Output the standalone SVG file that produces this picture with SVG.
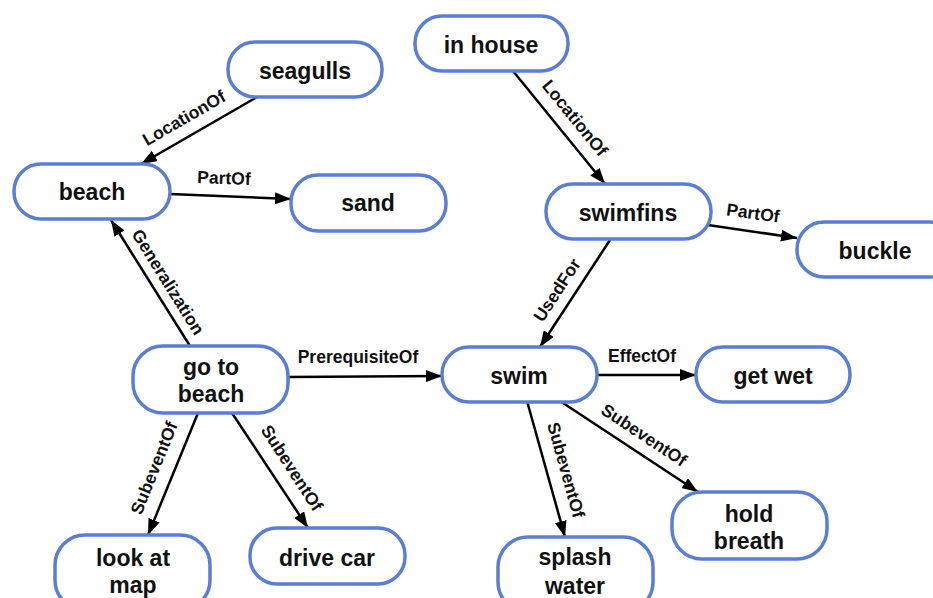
<svg xmlns="http://www.w3.org/2000/svg" width="933" height="598" viewBox="0 0 933 598">
<style>
.node rect{fill:#fff;stroke:#5b7ed5;stroke-width:3.5}
.node text{font-family:"Liberation Sans",Arial,sans-serif;font-weight:bold;font-size:23px;fill:#111;text-anchor:middle}
.edges line{stroke:#000;stroke-width:2.5;marker-end:url(#arr)}
.lbl{font-family:"Liberation Sans",Arial,sans-serif;font-weight:bold;font-size:17.5px;fill:#111;text-anchor:middle;dominant-baseline:central}
</style>
<defs>
<marker id="arr" markerUnits="userSpaceOnUse" markerWidth="16" markerHeight="12" refX="16" refY="6" orient="auto">
<path d="M0,0 L16,6 L0,12 z" fill="#000"/>
</marker>
</defs>
<rect width="933" height="598" fill="#fff"/>
<g class="edges">
<line x1="257" y1="97" x2="141" y2="164"/>
<line x1="170" y1="194" x2="291" y2="199"/>
<line x1="190" y1="346" x2="111" y2="220"/>
<line x1="288" y1="377" x2="442" y2="376"/>
<line x1="513" y1="71" x2="605" y2="184"/>
<line x1="708" y1="225" x2="797" y2="238"/>
<line x1="610" y1="240" x2="540" y2="347"/>
<line x1="597" y1="375" x2="696" y2="375"/>
<line x1="527" y1="401" x2="565" y2="537"/>
<line x1="560" y1="401" x2="698" y2="492"/>
<line x1="198" y1="413" x2="148" y2="535"/>
<line x1="232" y1="413" x2="308" y2="528"/>
<text class="lbl" x="184" y="118" transform="rotate(-30 184 118)">LocationOf</text>
<text class="lbl" x="224" y="178" transform="rotate(2 224 178)">PartOf</text>
<text class="lbl" x="168" y="282" transform="rotate(58 168 282)">Generalization</text>
<text class="lbl" x="358" y="357">PrerequisiteOf</text>
<text class="lbl" x="575" y="118" transform="rotate(51 575 118)">LocationOf</text>
<text class="lbl" x="753" y="213" transform="rotate(8 753 213)">PartOf</text>
<text class="lbl" x="557" y="290" transform="rotate(-57 557 290)">UsedFor</text>
<text class="lbl" x="642" y="356">EffectOf</text>
<text class="lbl" x="566" y="470" transform="rotate(74.5 566 470)">SubeventOf</text>
<text class="lbl" x="644" y="435" transform="rotate(33.5 644 435)">SubeventOf</text>
<text class="lbl" x="154" y="468" transform="rotate(-68 154 468)">SubeventOf</text>
<text class="lbl" x="292" y="468" transform="rotate(57 292 468)">SubeventOf</text>
</g>
<g id="seagulls" class="node"><rect x="228" y="42" width="154" height="55" rx="27"/><text x="305" y="79">seagulls</text></g>
<g id="beach" class="node"><rect x="14" y="164" width="156" height="55" rx="27"/><text x="92" y="200">beach</text></g>
<g id="sand" class="node"><rect x="291" y="175" width="155" height="56" rx="27"/><text x="368" y="211">sand</text></g>
<g id="in-house" class="node"><rect x="415" y="16" width="153" height="55" rx="27"/><text x="491" y="53">in house</text></g>
<g id="swimfins" class="node"><rect x="546" y="184" width="165" height="55" rx="27"/><text x="628" y="221">swimfins</text></g>
<g id="buckle" class="node"><rect x="797" y="222" width="160" height="55" rx="27"/><text x="875" y="259">buckle</text></g>
<g id="go-to-beach" class="node"><rect x="133" y="346" width="155" height="67" rx="30"/><text x="211" y="375">go to</text><text x="211" y="402">beach</text></g>
<g id="swim" class="node"><rect x="442" y="347" width="155" height="55" rx="27"/><text x="519" y="384">swim</text></g>
<g id="get-wet" class="node"><rect x="696" y="347" width="154" height="55" rx="27"/><text x="773" y="384">get wet</text></g>
<g id="hold-breath" class="node"><rect x="672" y="492" width="155" height="67" rx="30"/><text x="749" y="522">hold</text><text x="749" y="549">breath</text></g>
<g id="splash-water" class="node"><rect x="498" y="537" width="155" height="75" rx="30"/><text x="575" y="565">splash</text><text x="575" y="594">water</text></g>
<g id="look-at-map" class="node"><rect x="55" y="535" width="155" height="75" rx="30"/><text x="133" y="566">look at</text><text x="133" y="593">map</text></g>
<g id="drive-car" class="node"><rect x="250" y="528" width="155" height="56" rx="27"/><text x="327" y="566">drive car</text></g>
</svg>
